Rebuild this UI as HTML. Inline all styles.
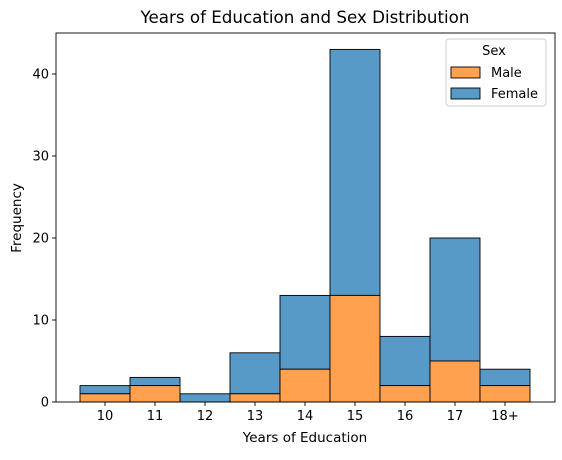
<!DOCTYPE html>
<html><head><meta charset="utf-8"><style>
body{margin:0;background:#fff;}
svg text{font-family:"DejaVu Sans","Liberation Sans",sans-serif;fill:#000;}
</style></head><body>
<svg id="chart" width="562" height="455">
<text x="305" y="23" font-size="16.7" text-anchor="middle">Years of Education and Sex Distribution</text>
<g id="bars"></g>
<rect x="56" y="33" width="499" height="369" fill="none" stroke="#000" stroke-width="0.9"/>
<g id="xaxis"></g><g id="yaxis"></g>
<text x="305" y="442" font-size="13.5" text-anchor="middle">Years of Education</text>
<text transform="translate(21,218) rotate(-90)" font-size="13.5" text-anchor="middle">Frequency</text>
<g>
<rect x="446" y="39" width="100" height="67" rx="3" fill="#fff" stroke="#ccc"/>
<text x="494" y="55" font-size="13" text-anchor="middle">Sex</text>
<rect x="451" y="67" width="29" height="11" fill="#ffa14f" stroke="#000" stroke-width="0.9"/>
<text x="491" y="77" font-size="13">Male</text>
<rect x="451" y="88" width="29" height="11" fill="#5799c7" stroke="#000" stroke-width="0.9"/>
<text x="491" y="98" font-size="13">Female</text>
</g>
</svg>
<script>
const categories=["10","11","12","13","14","15","16","17","18+"];
const maleValues=[1,2,0,1,4,13,2,5,2];
const femaleValues=[1,1,1,5,9,30,6,15,2];
const yTicks=[0,10,20,30,40];
const NS="http://www.w3.org/2000/svg";
const x0=80,bw=50,yBase=402,pxPerUnit=8.2;
const xPos=i=>x0+i*bw;
const yPos=v=>yBase-v*pxPerUnit;
function mk(tag,attrs,parent){const e=document.createElementNS(NS,tag);for(const k in attrs)e.setAttribute(k,attrs[k]);parent.appendChild(e);return e;}
const bars=document.getElementById('bars');
categories.forEach((c,i)=>{
 const m=maleValues[i],f=femaleValues[i];
 const fr=mk('rect',{x:xPos(i),y:yPos(m+f),width:bw,height:yPos(m)-yPos(m+f),fill:'#5799c7',stroke:'#000','stroke-width':0.9},bars);
 
 
 const mr=mk('rect',{x:xPos(i),y:yPos(m),width:bw,height:yBase-yPos(m),fill:'#ffa14f',stroke:'#000','stroke-width':0.9},bars);
 
 
});
const xa=document.getElementById('xaxis');
categories.forEach((c,i)=>{
 const cx=xPos(i)+bw/2;
 const t=mk('line',{x1:cx,x2:cx,y1:402,y2:406,stroke:'#000','stroke-width':0.9},xa);
 
 
 const l=mk('text',{x:cx,y:420,'font-size':13,'text-anchor':'middle'},xa);l.textContent=c;
 
 
});
const ya=document.getElementById('yaxis');
yTicks.forEach(v=>{
 const y=yPos(v);
 const t=mk('line',{x1:52,x2:56,y1:y,y2:y,stroke:'#000','stroke-width':0.9},ya);
 
 
 const l=mk('text',{x:49,y:y+4.5,'font-size':13,'text-anchor':'end'},ya);l.textContent=v;
 
 
});
</script>
</body></html>
